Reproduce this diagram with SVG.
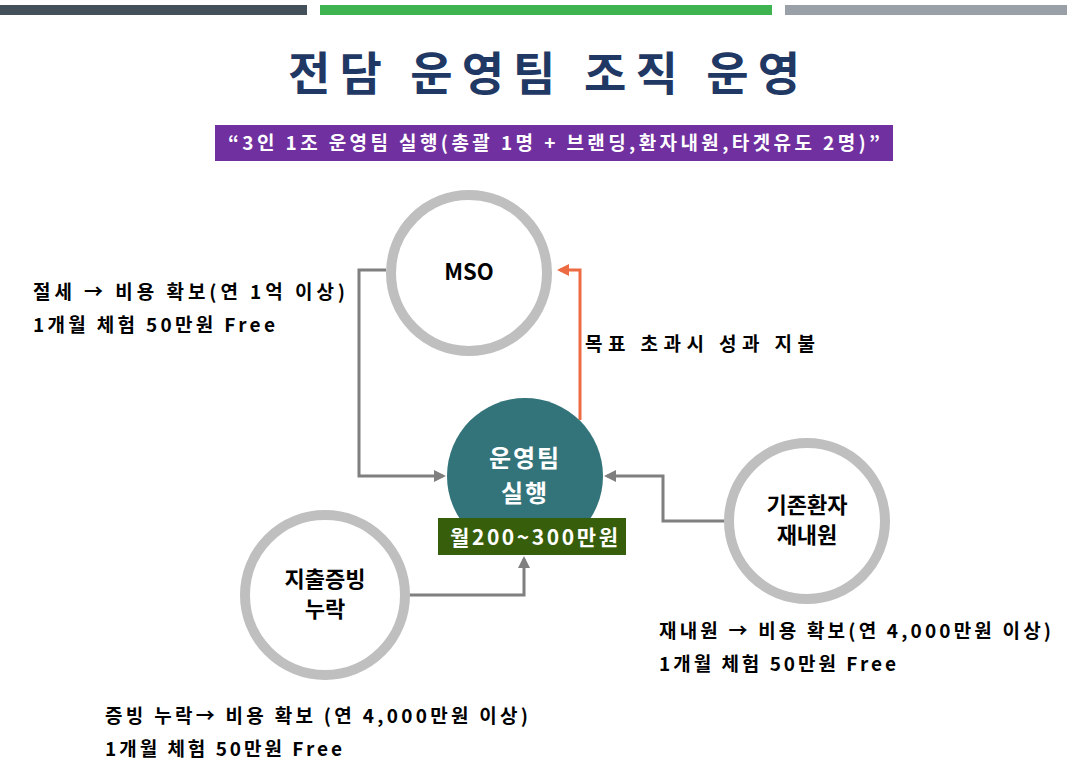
<svg xmlns="http://www.w3.org/2000/svg" width="1067" height="771" viewBox="0 0 1067 771">
<style>
text{font-family:"Noto Sans CJK KR","Noto Sans",sans-serif;font-weight:bold}
.ring{fill:#fff;stroke:#BFBFBF;stroke-width:10}
.c{stroke:#7F7F7F;stroke-width:3;fill:none;marker-end:url(#ag)}
.lbl{font-size:19px;fill:#000}
.nt{font-size:22px;fill:#000;text-anchor:middle}
</style>
<defs>
<marker id="ag" markerWidth="4" markerHeight="4" refX="3" refY="2" orient="auto"><path d="M0,0L4,2L0,4z" fill="#7F7F7F"/></marker>
<marker id="ao" markerWidth="4" markerHeight="4" refX="3" refY="2" orient="auto"><path d="M0,0L4,2L0,4z" fill="#ED6B43"/></marker>
</defs>
<rect width="1067" height="771" fill="#fff"/>
<rect x="0" y="5" width="307" height="10" fill="#44505A"/>
<rect x="320" y="5" width="452" height="10" fill="#3FB34F"/>
<rect x="785" y="5" width="282" height="10" fill="#99A0A8"/>
<text x="288" y="90" font-size="46" fill="#1F3864" textLength="512" lengthAdjust="spacing">전담 운영팀 조직 운영</text>
<rect x="215" y="125" width="678" height="36" fill="#7030A0"/>
<text x="228" y="150" font-size="19" fill="#fff" textLength="652" lengthAdjust="spacing">“3인 1조 운영팀 실행(총괄 1명 + 브랜딩,환자내원,타겟유도 2명)”</text>
<g id="connectors">
<path class="c" d="M386,270H359V476H443"/>
<path d="M580,420V270H560" stroke="#ED6B43" stroke-width="3" fill="none" marker-end="url(#ao)"/>
<path class="c" d="M730,521H663V476H607"/>
<path class="c" d="M408,595H524V559"/>
</g>
<g id="mso"><circle class="ring" cx="469" cy="273" r="78"/><text class="nt" x="469" y="280">MSO</text></g>
<g id="team"><circle cx="525" cy="476" r="78" fill="#33747A"/>
<text x="525" y="467" font-size="24" fill="#fff" text-anchor="middle" letter-spacing="2">운영팀</text>
<text x="525" y="502" font-size="24" fill="#fff" text-anchor="middle" letter-spacing="2">실행</text>
<rect x="438" y="518" width="188" height="37" fill="#375E0B"/>
<text x="450" y="545" font-size="21" fill="#fff" textLength="168" lengthAdjust="spacing">월200~300만원</text></g>
<g id="revisit"><circle class="ring" cx="807" cy="521" r="78"/><text class="nt" x="807" y="513">기존환자</text><text class="nt" x="807" y="543">재내원</text></g>
<g id="receipt"><circle class="ring" cx="325" cy="595" r="80"/><text class="nt" x="325" y="587">지출증빙</text><text class="nt" x="325" y="617">누락</text></g>
<text class="lbl" x="33" y="299" textLength="312">절세 → 비용 확보(연 1억 이상)</text>
<text class="lbl" x="33" y="332" textLength="242">1개월 체험 50만원 Free</text>
<text class="lbl" x="585" y="351" textLength="230">목표 초과시 성과 지불</text>
<text class="lbl" x="659" y="638" textLength="392">재내원 → 비용 확보(연 4,000만원 이상)</text>
<text class="lbl" x="659" y="671" textLength="237">1개월 체험 50만원 Free</text>
<text class="lbl" x="105" y="723" textLength="423">증빙 누락→ 비용 확보 (연 4,000만원 이상)</text>
<text class="lbl" x="105" y="756" textLength="237">1개월 체험 50만원 Free</text>
</svg>
